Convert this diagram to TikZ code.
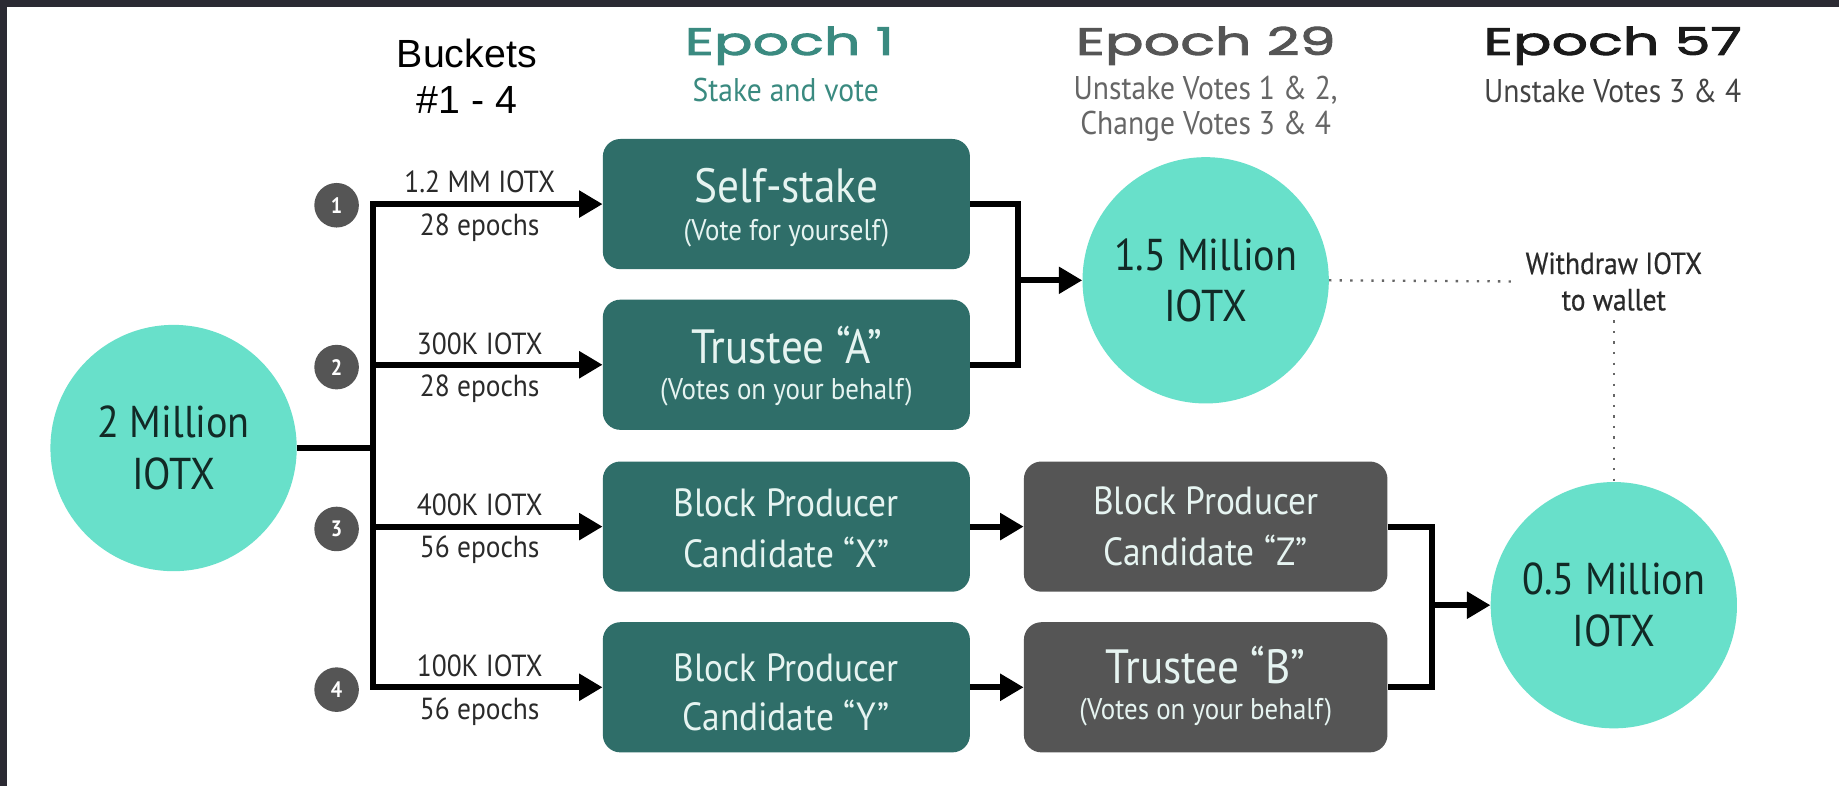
\documentclass[tikz,border=0pt]{standalone}
\usepackage{fontspec}
\setmainfont{PT Sans}[FakeStretch=0.9]
\newfontfamily\epochfont{Poppins}[FakeStretch=1.5,FakeBold=2.5]
\newfontfamily\wdfont{PT Sans}[FakeStretch=0.9,FakeBold=0.6]
\newfontfamily\arialfont{Liberation Sans}
\usetikzlibrary{arrows.meta}
\definecolor{tealc}{HTML}{68E0CA}
\definecolor{boxteal}{HTML}{2F6E69}
\definecolor{boxgray}{HTML}{555555}
\definecolor{framec}{HTML}{2B2A33}
\definecolor{epone}{HTML}{3A8A80}
\definecolor{eptwo}{HTML}{555555}
\definecolor{eptwos}{HTML}{666666}
\definecolor{epthree}{HTML}{1A1A1A}
\definecolor{epthrees}{HTML}{444444}
\definecolor{circtext}{HTML}{122A26}
\definecolor{lblc}{HTML}{2A2A2A}
\definecolor{boxtext}{HTML}{E6F4F1}
\definecolor{dotc}{HTML}{666666}
\tikzset{
  bigcirc/.style={circle, fill=tealc, minimum size=210pt, inner sep=0pt, align=center,
    font=\fontsize{38}{44}\selectfont, text=circtext},
  tealbox/.style={rounded corners=15pt, fill=boxteal, minimum width=313pt, minimum height=111pt, inner sep=0pt},
  graybox/.style={rounded corners=15pt, fill=boxgray, minimum width=310pt, minimum height=111pt, inner sep=0pt},
  bigttl/.style={font=\fontsize{41}{44}\selectfont, text=boxtext, inner sep=0pt},
  midttl/.style={font=\fontsize{33.5}{40}\selectfont, text=boxtext, inner sep=0pt},
  subttl/.style={font=\fontsize{25.5}{30}\selectfont, text=boxtext, inner sep=0pt},
  badge/.style={circle, fill=boxgray, minimum size=38pt, inner sep=0pt, text=white,
    font=\fontsize{19}{19}\selectfont\bfseries},
  lbl/.style={font=\fontsize{26}{26}\selectfont, text=lblc, inner sep=0pt},
  epochhead/.style={font=\epochfont\fontsize{32.5}{36}\selectfont, inner sep=0pt},
  epochsub/.style={font=\fontsize{28}{30}\selectfont, inner sep=0pt, align=center},
  conn/.style={line width=5pt, draw=black, line join=miter},
  arr/.style={conn, -{Triangle[length=20pt,width=22pt]}},
  dots/.style={line width=2pt, draw=dotc, dash pattern=on 2pt off 7pt},
}
\begin{document}
\begin{tikzpicture}[x=1pt,y=-1pt]
\useasboundingbox (0,0) rectangle (1568,670);
\fill[white] (0,0) rectangle (1568,670);
\fill[framec] (0,0) rectangle (1568,6);
\fill[framec] (0,0) rectangle (6,670);

% headings
\node[align=center, font=\arialfont\fontsize{33.5}{40}\selectfont, inner sep=0pt] (bk) at (398,65) {Buckets\\\#1 - 4};
\node[epochhead, text=epone] (e1) at (673,39) {Epoch 1};
\node[epochsub, text=epone] (e1s) at (670,77) {Stake and vote};
\node[epochhead, text=eptwo] (e29) at (1028,39) {Epoch 29};
\node[epochsub, text=eptwos] (e29s) at (1028,93) {Unstake Votes 1 \& 2,\\Change Votes 3 \& 4};
\node[epochhead, text=epthree] (e57) at (1375,39) {Epoch 57};
\node[epochsub, text=epthrees] (e57s) at (1375,78) {Unstake Votes 3 \& 4};

% circles
\node[bigcirc] (src) at (148,382) {2 Million\\IOTX};
\node[bigcirc] (c15) at (1028,239) {1.5 Million\\IOTX};
\node[bigcirc] (c05) at (1376,516) {0.5 Million\\IOTX};

% teal boxes
\node[tealbox] (ss) at (670.5,174) {};
\node[bigttl] (ss-t) at (670.5,158) {Self-stake};
\node[subttl] (ss-s) at (670.5,199) {(Vote for yourself)};
\node[tealbox] (ta) at (670.5,311) {};
\node[bigttl] (ta-t) at (670.5,294) {Trustee “A”};
\node[subttl] (ta-s) at (670.5,334) {(Votes on your behalf)};
\node[tealbox] (bx) at (670.5,449) {};
\node[midttl] (bx-t) at (670.5,429) {Block Producer};
\node[midttl] (bx-s) at (670.5,471) {Candidate “X”};
\node[tealbox] (by) at (670.5,586) {};
\node[midttl] (by-t) at (670.5,569) {Block Producer};
\node[midttl] (by-s) at (670.5,610) {Candidate “Y”};

% gray boxes
\node[graybox] (bz) at (1028,449) {};
\node[midttl] (bz-t) at (1028,427) {Block Producer};
\node[midttl] (bz-s) at (1028,469) {Candidate “Z”};
\node[graybox] (tb) at (1028,586) {};
\node[bigttl] (tb-t) at (1028,567) {Trustee “B”};
\node[subttl] (tb-s) at (1028,607) {(Votes on your behalf)};

% badges
\node[badge] (b1) at (287,175) {1};
\node[badge] (b2) at (287,313) {2};
\node[badge] (b3) at (287,451) {3};
\node[badge] (b4) at (287,588) {4};

% arrow labels
\node[lbl] (l1a) at (409,155) {1.2 MM IOTX};
\node[lbl] (l1b) at (409,194) {28 epochs};
\node[lbl] (l2a) at (409,293) {300K IOTX};
\node[lbl] (l2b) at (409,331) {28 epochs};
\node[lbl] (l3a) at (409,430) {400K IOTX};
\node[lbl] (l3b) at (409,469) {56 epochs};
\node[lbl] (l4a) at (409,568) {100K IOTX};
\node[lbl] (l4b) at (409,607) {56 epochs};

% withdraw
\node[align=center, font=\wdfont\fontsize{26}{31}\selectfont, text=lblc, inner sep=8pt] (wd) at (1376,240) {Withdraw IOTX\\to wallet};

% connectors
\coordinate (bus) at (318,382);
\draw[conn] (src.east) -- (bus);
\draw[arr] (bus |- by.west) -- (bus |- ss.west) -- (ss.west);
\draw[arr] (bus |- ss.west) -- (bus |- by.west) -- (by.west);
\draw[arr] (bus |- ta.west) -- (ta.west);
\draw[arr] (bus |- bx.west) -- (bx.west);

\coordinate (j1) at (868,239);
\draw[conn] (ss.east) -- (j1 |- ss.east) -- (j1 |- ta.east) -- (ta.east);
\draw[arr] (j1 |- c15.west) -- (c15.west);

\draw[arr] (bx.east) -- (bz.west);
\draw[arr] (by.east) -- (tb.west);

\coordinate (j2) at (1221,517);
\draw[conn] (bz.east) -- (j2 |- bz.east) -- (j2 |- tb.east) -- (tb.east);
\draw[arr] (j2 |- c05.west) -- (c05.west);

\draw[dots] (c15.east) -- (wd.west);
\draw[dots] (wd.south) -- (c05.north);
\end{tikzpicture}
\end{document}
